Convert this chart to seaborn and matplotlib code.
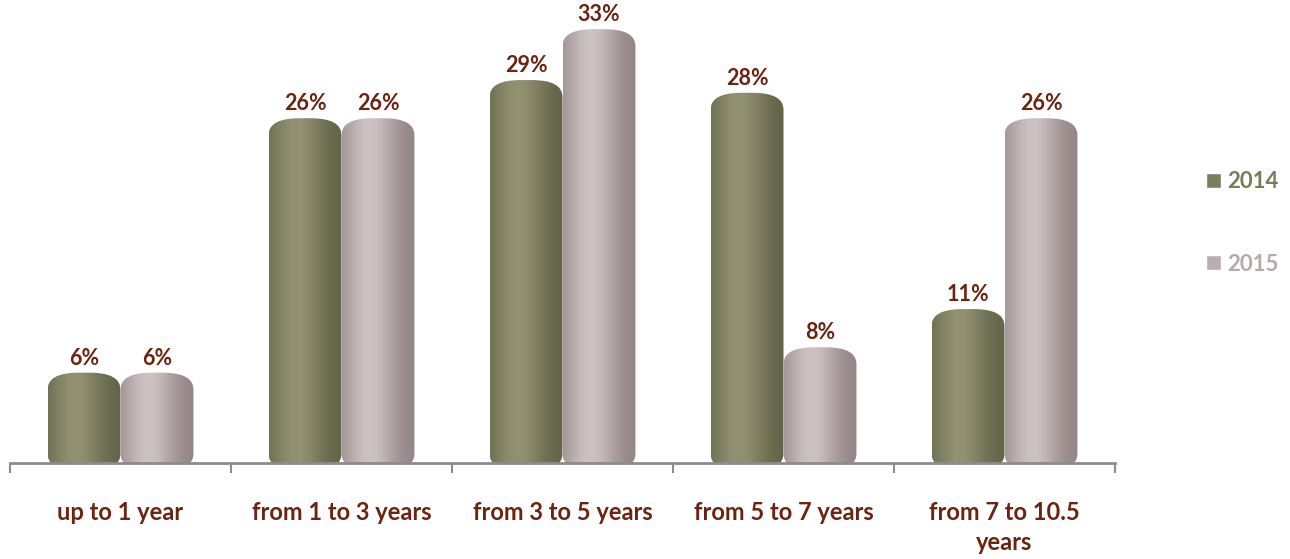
import numpy as np
import pandas as pd
import seaborn as sns
import matplotlib
matplotlib.use("Agg")
import matplotlib.pyplot as plt
from matplotlib.patches import FancyBboxPatch
from matplotlib.colors import to_rgb

categories = ["up to 1 year", "from 1 to 3 years", "from 3 to 5 years",
              "from 5 to 7 years", "from 7 to 10.5\nyears"]
years = ["2014", "2015"]
values_2014 = [6, 26, 29, 28, 11]
values_2015 = [6, 26, 33, 8, 26]

df = pd.DataFrame({
    "category": categories * 2,
    "year": [years[0]] * len(categories) + [years[1]] * len(categories),
    "value": values_2014 + values_2015,
})

sns.set_theme(style="white")
plt.rcParams["font.family"] = ["Lato", "DejaVu Sans"]

W, H = 1290, 559
fig = plt.figure(figsize=(W / 100, H / 100), dpi=100)
ax = fig.add_axes([10 / W, 96 / H, 1105 / W, 458 / H])

base = {"2014": "#7d7d5c", "2015": "#bcaeae"}
shades = {"2014": ("#626247", "#929272"), "2015": ("#928383", "#cdc2c2")}
label_color = "#6b2410"

sns.barplot(data=df, x="category", y="value", hue="year", palette=base,
            width=0.66, ax=ax, saturation=1)

YMAX = 36
ax.set_xlim(-0.5, len(categories) - 0.5)
ax.set_ylim(0, YMAX)

cap = 1.1      # 3D cap height (data units)
below = 0.6


def gradient(dark, light, n=200, m=120):
    t = np.linspace(0, 1, n)
    f = np.exp(-((t - 0.38) / 0.36) ** 2)
    d, l = np.array(to_rgb(dark)), np.array(to_rgb(light))
    row = d[None, :] * (1 - f[:, None]) + l[None, :] * f[:, None]
    img = np.repeat(row[None, :, :], m, axis=0)
    return img


for cont, yr in zip(ax.containers, years):
    dark, light = shades[yr]
    for p in cont:
        x0, w, h = p.get_x(), p.get_width(), p.get_height()
        top = h + cap
        fb = FancyBboxPatch((x0, -below), w, top + below,
                            boxstyle="round,pad=0,rounding_size=0.14",
                            mutation_aspect=9.5, transform=ax.transData,
                            facecolor="none", edgecolor="none")
        ax.add_patch(fb)
        img = gradient(dark, light)
        im = ax.imshow(img, extent=[x0, x0 + w, -below, top], aspect="auto",
                       origin="lower", zorder=2, interpolation="bilinear")
        im.set_clip_path(fb)
        p.set_visible(False)

for cont, vals in zip(ax.containers, [values_2014, values_2015]):
    ax.bar_label(cont, labels=[f"{v}%" for v in vals], padding=13,
                 fontsize=15.5, fontweight="bold", color=label_color)

ax.set_xlim(-0.5, len(categories) - 0.5)
ax.set_ylim(0, YMAX)
ax.set_xlabel("")
ax.set_ylabel("")
ax.set_yticks([])
for s in ["top", "right", "left"]:
    ax.spines[s].set_visible(False)
ax.spines["bottom"].set_color("#8c8c8c")
ax.spines["bottom"].set_linewidth(2)

ax.set_xticks(np.arange(-0.5, len(categories)), minor=True)
ax.tick_params(axis="x", which="minor", length=7, width=1.5,
               color="#8c8c8c", direction="out", bottom=True)
ax.tick_params(axis="x", which="major", length=0, pad=27)
for t in ax.get_xticklabels():
    t.set_fontsize(17)
    t.set_fontweight("bold")
    t.set_color(label_color)
    t.set_linespacing(1.4)
    t.set_verticalalignment("top")

handles, labels = ax.get_legend_handles_labels()
if ax.get_legend() is not None:
    ax.get_legend().remove()
fig.legend(handles, labels, loc="center left",
           bbox_to_anchor=(1195 / W, 1 - 223 / H), frameon=False,
           labelcolor=["#7b7b5a", "#b8a9a9"], prop={"weight": "bold", "size": 16},
           handlelength=0.65, handleheight=0.65, handletextpad=0.3,
           labelspacing=2.75, borderpad=0)

fig.savefig("out.png", dpi=100)
